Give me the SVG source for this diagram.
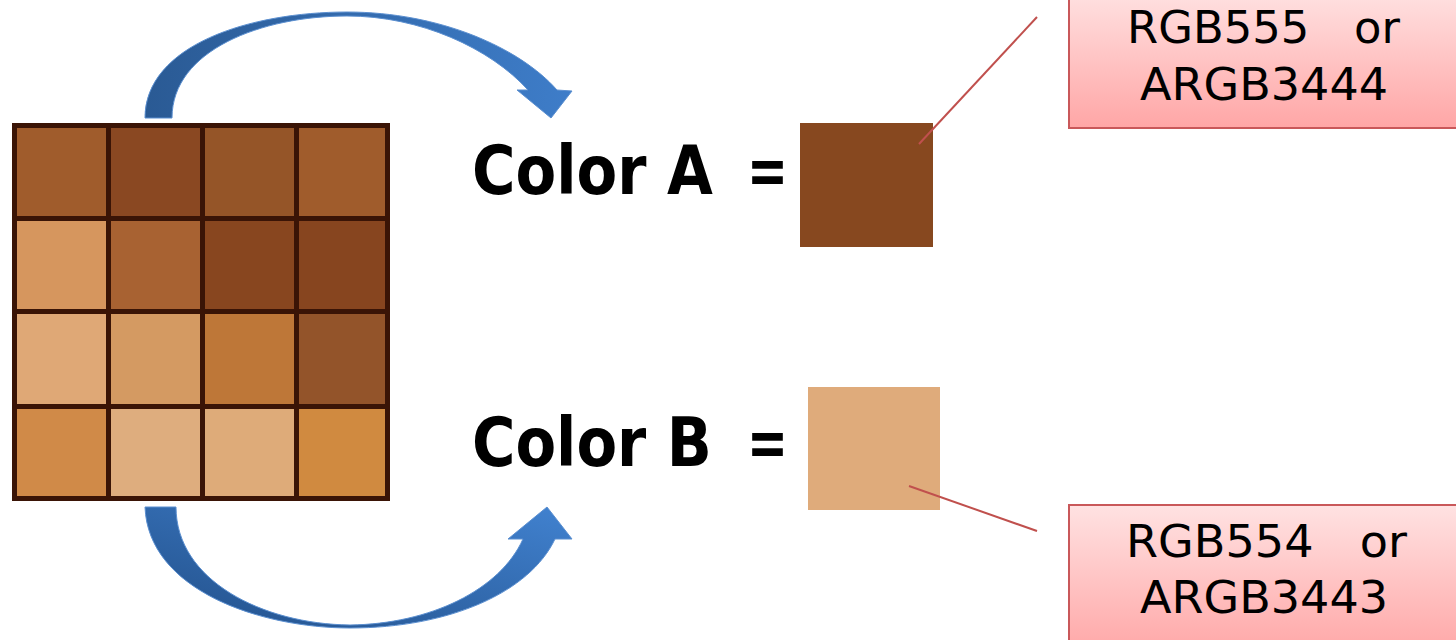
<svg xmlns="http://www.w3.org/2000/svg" width="1456" height="640" viewBox="0 0 1456 640">
<defs>
<linearGradient id="arrTop" x1="0" y1="0" x2="1" y2="0">
<stop offset="0" stop-color="#2a5a94"/>
<stop offset="1" stop-color="#3e7dc9"/>
</linearGradient>
<linearGradient id="arrBot" x1="0" y1="1" x2="1" y2="0">
<stop offset="0" stop-color="#22508a"/>
<stop offset="1" stop-color="#4182d0"/>
</linearGradient>
<linearGradient id="pink" x1="0" y1="0" x2="0" y2="1">
<stop offset="0" stop-color="#ffe2e2"/>
<stop offset="1" stop-color="#ffa6a6"/>
</linearGradient>
<style>
.lbl{font-family:"DejaVu Sans",Verdana,sans-serif;font-weight:bold;font-size:67px;fill:#000}
.cal{font-family:"DejaVu Sans",Verdana,sans-serif;font-size:44px;fill:#000}
.box{fill:url(#pink);stroke:#c9585a;stroke-width:2}
.lead{stroke:#c0504d;stroke-width:2;fill:none}
.cell{stroke:#3a1406;stroke-width:5}
</style>
</defs>
<rect width="1456" height="640" fill="#fff"/>

<g id="grid">
<rect x="12" y="123" width="378" height="378" fill="#3a1406"/>
<g class="cell">
<rect x="14.5" y="125.5" width="94" height="93" fill="#a05c2c"/>
<rect x="108.5" y="125.5" width="94" height="93" fill="#8a4822"/>
<rect x="202.5" y="125.5" width="94" height="93" fill="#955528"/>
<rect x="296.5" y="125.5" width="91" height="93" fill="#a05c2c"/>
<rect x="14.5" y="218.5" width="94" height="93" fill="#d6965e"/>
<rect x="108.5" y="218.5" width="94" height="93" fill="#a86232"/>
<rect x="202.5" y="218.5" width="94" height="93" fill="#88461f"/>
<rect x="296.5" y="218.5" width="91" height="93" fill="#87451f"/>
<rect x="14.5" y="311.5" width="94" height="95" fill="#dfa876"/>
<rect x="108.5" y="311.5" width="94" height="95" fill="#d49a62"/>
<rect x="202.5" y="311.5" width="94" height="95" fill="#be7738"/>
<rect x="296.5" y="311.5" width="91" height="95" fill="#93542a"/>
<rect x="14.5" y="406.5" width="94" height="92" fill="#d08a48"/>
<rect x="108.5" y="406.5" width="94" height="92" fill="#dead7e"/>
<rect x="202.5" y="406.5" width="94" height="92" fill="#deab79"/>
<rect x="296.5" y="406.5" width="91" height="92" fill="#d08a40"/>
</g>
</g>

<g id="colorA">
<text class="lbl" x="472" y="194" textLength="241" lengthAdjust="spacingAndGlyphs">Color A</text>
<text class="lbl" x="747" y="194" textLength="41" lengthAdjust="spacingAndGlyphs">=</text>
<rect x="800" y="123" width="133" height="124" fill="#87481f"/>
</g>

<g id="colorB">
<text class="lbl" x="472" y="466" textLength="240" lengthAdjust="spacingAndGlyphs">Color B</text>
<text class="lbl" x="747" y="466" textLength="41" lengthAdjust="spacingAndGlyphs">=</text>
<rect x="808" y="387" width="132" height="123" fill="#dfab7b"/>
</g>

<g id="calloutA">
<rect class="box" x="1069" y="-10" width="400" height="138"/>
<text class="cal" x="1127" y="43" textLength="273" lengthAdjust="spacingAndGlyphs">RGB555　or</text>
<text class="cal" x="1140" y="100" textLength="248" lengthAdjust="spacingAndGlyphs">ARGB3444</text>
</g>

<g id="calloutB">
<rect class="box" x="1069" y="505" width="400" height="150"/>
<text class="cal" x="1126" y="557" textLength="281" lengthAdjust="spacingAndGlyphs">RGB554　or</text>
<text class="cal" x="1140" y="613" textLength="248" lengthAdjust="spacingAndGlyphs">ARGB3443</text>
</g>

<g id="connectors">
<path d="M 145 118 C 145 45, 250 12, 347 12 C 440 12, 520 48, 557 90 L 572 91 L 551 118 L 517 90 L 528 90 C 490 48, 420 16, 347 16 C 262 16, 172 50, 172 118 Z" fill="url(#arrTop)" stroke="#5b8fd0" stroke-width="1"/>
<path d="M 145 507 C 148 590, 260 628, 350 628 C 450 628, 530 592, 555 539 L 572 539 L 547 507 L 508 539 L 523 539 C 500 590, 430 624, 350 625 C 262 624, 176 580, 176 507 Z" fill="url(#arrBot)" stroke="#5b8fd0" stroke-width="1"/>
<line class="lead" x1="919" y1="144" x2="1037" y2="17"/>
<line class="lead" x1="909" y1="486" x2="1037" y2="531"/>
</g>
</svg>
